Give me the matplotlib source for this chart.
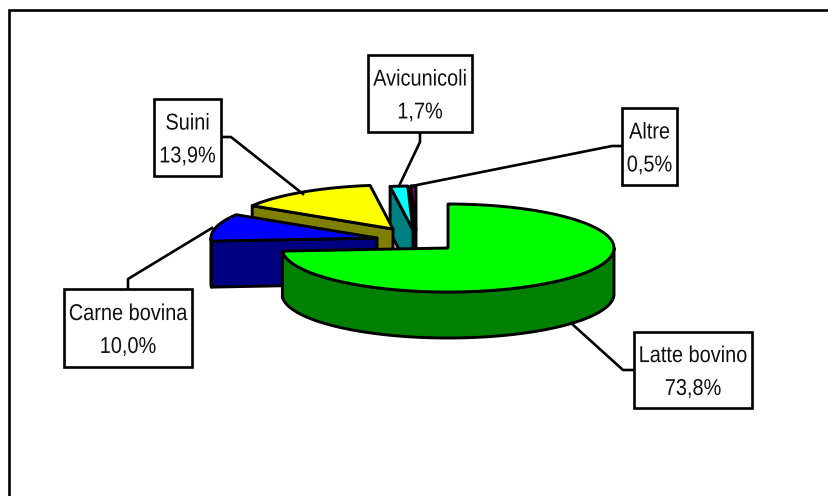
import numpy as np
import matplotlib
matplotlib.use('Agg')
import matplotlib.pyplot as plt
from matplotlib.patches import Polygon, Rectangle
from matplotlib.patheffects import AbstractPathEffect
from matplotlib.transforms import Affine2D

labels = ['Latte bovino', 'Carne bovina', 'Suini', 'Avicunicoli', 'Altre']
values = [73.8, 10.0, 13.9, 1.7, 0.5]
top_colors = ['#00ff00', '#0000ff', '#ffff00', '#00ffff', '#800080']
side_colors = ['#008000', '#000080', '#808000', '#008080', '#400040']

# apex of each slice, in figure pixels
apex_x = [448, 377, 393, 413, 416]
apex_y = [248, 238, 229, 230, 230]

# label box left, top, right, bottom
boxes = [(634, 332, 752, 408), (64, 289, 192, 367), (154, 99, 221, 176),
         (368, 55, 472, 132), (622, 108, 677, 185)]
leaders = [[(634, 370), (623, 370), (571, 323)],
           [(128, 289), (128, 279), (212, 228)],
           [(221, 137), (231, 137), (303, 194)],
           [(420, 132), (420, 142), (399, 186)],
           [(622, 146), (612, 146), (412, 186)]]

RX = 166
RY = 44
DEPTH = 46
LW_PIE = 2.1
LW = 1.9


class Condensed(AbstractPathEffect):
    """squeeze text horizontally around a fixed x in display units"""

    def __init__(self, xc, factor):
        super().__init__()
        self.xc = xc
        self.factor = factor

    def draw_path(self, renderer, gc, tpath, affine, rgbFace=None):
        squeeze = Affine2D().translate(-self.xc, 0).scale(self.factor, 1).translate(self.xc, 0)
        renderer.draw_path(gc, tpath, affine + squeeze, rgbFace)


def rim(cx, cy, a0, a1):
    """points of the ellipse between two clockwise angles from the top"""
    t = np.radians(np.linspace(a0, a1, max(int(abs(a1 - a0)) * 2, 2)))
    return np.column_stack([cx + RX * np.sin(t), cy - RY * np.cos(t)])


def draw_slice(ax, cx, cy, a0, a1, top, side):
    down = np.array([0, DEPTH])
    apex = np.array([cx, cy])

    # cut wall on the leading edge faces the viewer when it runs towards the back left
    if a0 > 180:
        p = rim(cx, cy, a0, a0)[0]
        ax.add_patch(Polygon([apex, p, p + down, apex + down], fc=side, ec='k',
                             lw=LW_PIE, joinstyle='round'))

    # outer wall, only the front half of the ellipse shows
    lo, hi = max(a0, 90), min(a1, 270)
    if hi > lo:
        arc = rim(cx, cy, lo, hi)
        ax.add_patch(Polygon(np.vstack([arc, arc[::-1] + down]), fc=side, ec='k',
                             lw=LW_PIE, joinstyle='round'))

    ax.add_patch(Polygon(np.vstack([apex, rim(cx, cy, a0, a1)]), fc=top, ec='k',
                         lw=LW_PIE, joinstyle='round'))


fig = plt.figure(figsize=(8.29, 4.96), dpi=100)
ax = fig.add_axes([0, 0, 1, 1])
ax.set_xlim(0, 829)
ax.set_ylim(496, 0)
ax.axis('off')

# chart area border, runs off the right and bottom of the image
ax.plot([9.5, 9.5, 829], [496, 10, 10], color='k', lw=LW, solid_joinstyle='miter')

angles = np.concatenate([[0], np.cumsum(values)]) / sum(values) * 360

# back slices first so the big one ends up on top
for i in [4, 3, 2, 1, 0]:
    draw_slice(ax, apex_x[i], apex_y[i], angles[i], angles[i + 1],
               top_colors[i], side_colors[i])

for i in range(len(labels)):
    xs, ys = zip(*leaders[i])
    ax.plot(xs, ys, color='k', lw=LW)
    x0, y0, x1, y1 = boxes[i]
    ax.add_patch(Rectangle((x0, y0), x1 - x0, y1 - y0, fc='w', ec='k', lw=LW, zorder=5))
    text = labels[i] + '\n' + f'{values[i]:.1f}%'.replace('.', ',')
    xc = (x0 + x1) / 2
    t = ax.text(xc, (y0 + y1) / 2 + 2, text, ha='center', va='center', zorder=6,
                fontsize=16.5, family='Liberation Sans', linespacing=1.55, color='#111111')
    t.set_path_effects([Condensed(ax.transData.transform((xc, 0))[0], 0.87)])

fig.savefig('out.png', dpi=100)
